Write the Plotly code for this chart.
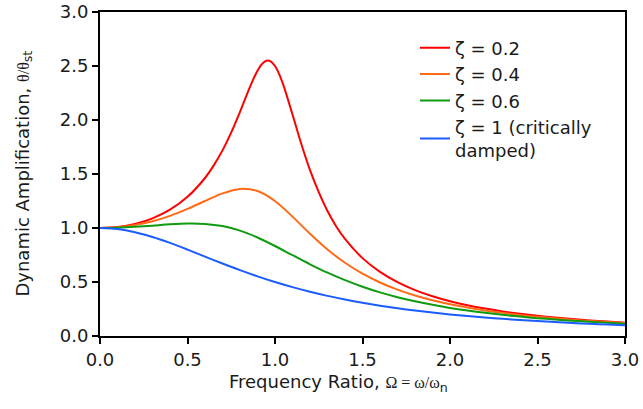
import plotly.graph_objects as go

# Frequency ratio samples
omega = [0.0, 0.1, 0.2, 0.3, 0.4, 0.5, 0.6, 0.7, 0.8, 0.9, 1.0, 1.1, 1.2, 1.3, 1.4, 1.5,
         1.6, 1.7, 1.8, 1.9, 2.0, 2.1, 2.2, 2.3, 2.4, 2.5, 2.6, 2.7, 2.8, 2.9, 3.0]

# zeta = 0.2 uses a denser grid around the resonance peak
omega_02 = [0.0, 0.1, 0.2, 0.3, 0.4, 0.5, 0.6, 0.65, 0.7, 0.75, 0.8, 0.85, 0.875, 0.9,
            0.925, 0.95, 0.975, 1.0, 1.025, 1.05, 1.1, 1.15, 1.2, 1.25, 1.3, 1.35, 1.4,
            1.5, 1.6, 1.7, 1.8, 1.9, 2.0, 2.1, 2.2, 2.3, 2.4, 2.5, 2.6, 2.7, 2.8, 2.9, 3.0]
amp_02 = [1.0, 1.0093, 1.0381, 1.0895, 1.1695, 1.2883, 1.4630, 1.5802, 1.7188, 1.8851,
          2.0762, 2.2786, 2.3740, 2.4566, 2.5178, 2.5490, 2.5438, 2.5000, 2.4207, 2.3131,
          2.0511, 1.7800, 1.5357, 1.3320, 1.1574, 1.0146, 0.8998, 0.7212, 0.5931, 0.4979,
          0.4250, 0.3679, 0.3221, 0.2847, 0.2538, 0.2279, 0.2059, 0.1871, 0.1708, 0.1567,
          0.1443, 0.1333, 0.1236]

amp_04 = [1.0, 1.0068, 1.0275, 1.0626, 1.1125, 1.1765, 1.2500, 1.3203, 1.3618, 1.3429,
          1.2500, 1.1053, 0.9469, 0.8012, 0.6779, 0.5771, 0.4956, 0.4295, 0.3755, 0.3311,
          0.2941, 0.2631, 0.2367, 0.2142, 0.1948, 0.1780, 0.1633, 0.1504, 0.1389, 0.1288,
          0.1197]

amp_06 = [1.0, 1.0028, 1.0106, 1.0218, 1.0336, 1.0412, 1.0381, 1.0176, 0.9753, 0.9119,
          0.8333, 0.7482, 0.6641, 0.5862, 0.5168, 0.4563, 0.4042, 0.3596, 0.3214, 0.2885,
          0.2603, 0.2358, 0.2146, 0.1960, 0.1797, 0.1654, 0.1527, 0.1413, 0.1312, 0.1222,
          0.1140]

amp_10 = [1.0, 0.9901, 0.9615, 0.9174, 0.8621, 0.8000, 0.7353, 0.6711, 0.6098, 0.5525,
          0.5000, 0.4525, 0.4098, 0.3717, 0.3378, 0.3077, 0.2809, 0.2571, 0.2358, 0.2169,
          0.2000, 0.1848, 0.1712, 0.1590, 0.1479, 0.1379, 0.1289, 0.1206, 0.1131, 0.1063,
          0.1000]

names = ["ζ = 0.2", "ζ = 0.4", "ζ = 0.6", "ζ = 1 (critically<br>damped)"]
colors = ["#ff0000", "#ff6a14", "#109a10", "#1a5cff"]

tick_vals = [0.0, 0.5, 1.0, 1.5, 2.0, 2.5, 3.0]
tick_text = ["0.0", "0.5", "1.0", "1.5", "2.0", "2.5", "3.0"]

x_title = "Frequency Ratio, <span style='font-family:Liberation Serif;font-size:16px'>Ω = ω/ω</span><sub>n</sub>"
y_title = "Dynamic Amplification, <span style='font-family:Liberation Serif;font-size:16px'>θ/θ</span><sub>st</sub>"

series = [(omega_02, amp_02), (omega, amp_04), (omega, amp_06), (omega, amp_10)]

fig = go.Figure()
for (xs, ys), name, col in zip(series, names, colors):
    fig.add_trace(go.Scatter(x=xs, y=ys, mode="lines", name=name,
                             line=dict(color=col, width=2, shape="spline", smoothing=0.8)))

font_main = "DejaVu Sans, Verdana, sans-serif"
axis_common = dict(
    showline=True, linecolor="black", linewidth=2, mirror=True,
    ticks="outside", ticklen=6, tickwidth=2, tickcolor="black",
    showgrid=False, zeroline=False, automargin=False,
    tickfont=dict(family=font_main, size=18, color="#1a1a1a"),
    tickvals=tick_vals, ticktext=tick_text, range=[0, 3],
)

fig.update_layout(
    width=643, height=409,
    margin=dict(l=100, r=18, t=12, b=73),
    paper_bgcolor="white", plot_bgcolor="white",
    font=dict(family=font_main, size=18, color="#1a1a1a"),
    showlegend=True,
    legend=dict(x=0.6, y=0.946, xanchor="left", yanchor="top",
                bgcolor="rgba(0,0,0,0)", borderwidth=0,
                font=dict(family=font_main, size=18, color="#1a1a1a"),
                tracegroupgap=0),
    xaxis=axis_common,
    yaxis=axis_common,
    annotations=[
        dict(text=x_title, xref="paper", yref="paper", x=0.2426, y=-0.145,
             xanchor="left", yanchor="middle", showarrow=False,
             font=dict(family=font_main, size=18, color="#1a1a1a")),
        dict(text=y_title, xref="paper", yref="paper", x=-0.1456, y=0.5,
             xanchor="center", yanchor="middle", showarrow=False, textangle=-90,
             font=dict(family=font_main, size=18, color="#1a1a1a")),
    ],
)

# remove the default page margin so the figure sits at the window's top-left corner
fig.write_html("out.html",
               config={"displayModeBar": False},
               post_script="document.body.style.margin='0';document.body.style.overflow='hidden';")
